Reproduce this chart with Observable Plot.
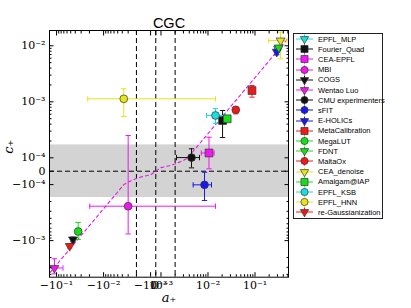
<!DOCTYPE html>
<html><head><meta charset="utf-8">
<script src="https://cdn.jsdelivr.net/npm/d3@7"></script>
<script src="https://cdn.jsdelivr.net/npm/@observablehq/plot@0.6"></script>
<style>
body{margin:0;background:#fff;}
#wrap{position:relative;width:411px;height:308px;overflow:hidden;background:#fff;}
#legend{position:absolute;left:293px;top:33px;width:88px;height:184px;border:1px solid #222;background:#fff;font-family:"Liberation Sans",Arial,sans-serif;font-size:7.5px;color:#000;}
.row{position:absolute;left:0;height:10px;display:flex;align-items:center;white-space:nowrap;}
.row svg{display:block;margin-left:1px;margin-right:3px;}
</style></head><body><div id="wrap"><div id="legend"></div></div>
<script>
// ---- data ----
const methods = ["EPFL_MLP","Fourier_Quad","CEA-EPFL","MBI","COGS","Wentao Luo","CMU experimenters","sFIT","E-HOLICs","MetaCalibration","MegaLUT","FDNT","MaltaOx","CEA_denoise","Amalgam@IAP","EPFL_KSB","EPFL_HNN","re-Gaussianization"];
const colors = ["#19e0e0","#111111","#ee19ee","#ee19ee","#111111","#ee19ee","#111111","#1919ee","#1919ee","#ee1919","#19dd19","#19dd19","#ee1919","#e5e519","#19dd19","#19e0e0","#e5e519","#ee1919"];
const shapes = ["triangle","square","square","circle","triangle","triangle","circle","circle","triangle","square","circle","triangle","circle","triangle","square","circle","circle","triangle"];
const aPlus = [0.31, 0.0204, 0.0105, -0.0030, -0.0448, -0.111, 0.00446, 0.00843, 0.29, 0.0863, -0.0347, 0.32, 0.039, 0.35, 0.0256, 0.01445, -0.00372, -0.0526];
const aLow  = [0.295, 0.018, 0.0072, -0.0197, -0.047, -0.145, 0.00214, 0.00484, 0.275, 0.080, -0.037, 0.30, 0.037, 0.197, 0.024, 0.0093, -0.0217, -0.055];
const aHigh = [0.325, 0.023, 0.0135, 0.01445, -0.0425, -0.0731, 0.00659, 0.01187, 0.305, 0.093, -0.0325, 0.34, 0.041, 0.48, 0.027, 0.0236, 0.01445, -0.050];
const cPlus = [0.0088, 4.63e-4, 1.22e-4, -2.43e-4, -9.56e-4, -3.08e-3, 1.01e-4, -1.01e-4, 0.0078, 1.59e-3, -6.88e-4, 0.0093, 7.2e-4, 0.0124, 4.97e-4, 5.7e-4, 1.13e-3, -1.25e-3];
const cLow  = [0.0082, 2.3e-4, 1.8e-5, -7.6e-4, -1.05e-3, -3.92e-3, 2.5e-5, -1.92e-4, 0.0069, 1.21e-3, -9.56e-4, 0.0085, 6.1e-4, 0.00586, 4.5e-4, 4.1e-4, 5.46e-4, -1.35e-3];
const cHigh = [0.0095, 7.0e-4, 2.33e-4, 2.5e-4, -8.7e-4, -2.11e-3, 1.45e-4, -7.5e-6, 0.0088, 1.95e-3, -4.75e-4, 0.0101, 8.0e-4, 0.0175, 5.5e-4, 7.6e-4, 1.71e-3, -1.15e-3];
const xTickVals = [-0.1, -0.01, -0.001, 0, 0.001, 0.01, 0.1];
const xTickLabels = ["\u221210\u207B\u00B9","\u221210\u207B\u00B2","\u221210\u207B\u00B3","0","10\u207B\u00B3","10\u207B\u00B2","10\u207B\u00B9"];
const yTickVals = [-0.001, -0.0001, 0, 0.0001, 0.001, 0.01];
const yTickLabels = ["\u221210\u207B\u00B3","\u221210\u207B\u2074","0","10\u207B\u2074","10\u207B\u00B3","10\u207B\u00B2"];
const vLines = [-0.002, 0, 0.002];
const band = [{lo: -1.7e-4, hi: 1.7e-4}];
const lineSlope = 0.027;
const lineA = [-0.2,-0.15,-0.1,-0.07,-0.05,-0.03,-0.02,-0.015,-0.01,-0.008,-0.006,-0.005,-0.0037,-0.003,-0.002,-0.0015,-0.001,-0.0005,0,0.0005,0.001,0.0015,0.002,0.003,0.0037,0.005,0.006,0.008,0.01,0.015,0.02,0.03,0.05,0.07,0.1,0.15,0.2,0.3,0.5,0.7];
const xMin = -0.1414, xMax = 0.516, yMin = -4.5e-3, yMax = 0.01875;

// ---- symlog transforms (matplotlib-like) ----
function symlog(L, s) { return v => { const m = Math.abs(v); const t = m <= L ? s * m / L : s + Math.log10(m / L); return v < 0 ? -t : t; }; }
const tx = symlog(1e-3, 0.1106);
const ty = symlog(1e-4, 0.239);

const pts = methods.map((m, i) => ({m, color: colors[i], shape: shapes[i], a: aPlus[i], aLo: aLow[i], aHi: aHigh[i], c: cPlus[i], cLo: cLow[i], cHi: cHigh[i]}));
const line = lineA.map(a => ({a, c: lineSlope * a}));

function minors(decades, lo, hi) {
  const out = [];
  for (const k of decades) for (let m = 2; m <= 9; m++) { const v = m * Math.pow(10, k); if (v <= hi) out.push(v); if (-v >= lo) out.push(-v); }
  return out;
}
const xMinor = minors([-3, -2, -1], xMin, xMax);
const yMinor = minors([-4, -3, -2], yMin, yMax);

const xLab = new Map(xTickVals.map((t, i) => [t, xTickLabels[i]]));
const yLab = new Map(yTickVals.map((t, i) => [t, yTickLabels[i]]));
const blank = () => "";

const capH = {draw(ctx, size) { const w = Math.sqrt(size) / 2; ctx.moveTo(-w, 0); ctx.lineTo(w, 0); }};
const capV = {draw(ctx, size) { const w = Math.sqrt(size) / 2; ctx.moveTo(0, -w); ctx.lineTo(0, w); }};

const plot = Plot.plot({
  width: 411, height: 308,
  marginLeft: 49, marginRight: 123, marginTop: 30, marginBottom: 31.3,
  x: {type: "linear", transform: tx, domain: [tx(xMin), tx(xMax)], axis: null},
  y: {type: "linear", transform: ty, domain: [ty(yMin), ty(yMax)], axis: null},
  style: {fontFamily: "DejaVu Serif", fontSize: "11px", background: "#fff", color: "#000"},
  marks: [
    Plot.rect(band, {y1: "lo", y2: "hi", fill: "#d3d3d3"}),
    Plot.ruleY([0], {stroke: "#000", strokeWidth: 1, strokeDasharray: "5,3"}),
    Plot.ruleX(vLines, {stroke: "#000", strokeWidth: 1, strokeDasharray: "5,3"}),
    Plot.line(line, {x: "a", y: "c", stroke: "#e619e6", strokeWidth: 1.1, strokeDasharray: "3,3", clip: true}),
    Plot.ruleX(pts, {x: "a", y1: "cLo", y2: "cHi", stroke: "color", strokeWidth: 1, clip: true}),
    Plot.ruleY(pts, {y: "c", x1: "aLo", x2: "aHi", stroke: "color", strokeWidth: 1, clip: true}),
    Plot.dot(pts, {x: "a", y: "cLo", symbol: capH, r: 3, stroke: "color", fill: "none", strokeWidth: 1, clip: true}),
    Plot.dot(pts, {x: "a", y: "cHi", symbol: capH, r: 3, stroke: "color", fill: "none", strokeWidth: 1, clip: true}),
    Plot.dot(pts, {x: "aLo", y: "c", symbol: capV, r: 3, stroke: "color", fill: "none", strokeWidth: 1, clip: true}),
    Plot.dot(pts, {x: "aHi", y: "c", symbol: capV, r: 3, stroke: "color", fill: "none", strokeWidth: 1, clip: true}),
    Plot.dot(pts.filter(d => d.shape === "square"), {x: "a", y: "c", symbol: "square", r: 4.4, fill: "color", stroke: "#333", strokeWidth: 0.7}),
    Plot.dot(pts.filter(d => d.shape === "circle"), {x: "a", y: "c", symbol: "circle", r: 3.9, fill: "color", stroke: "#333", strokeWidth: 0.7}),
    Plot.dot(pts.filter(d => d.shape === "triangle"), {x: "a", y: "c", symbol: "triangle", rotate: 180, r: 3.3, fill: "color", stroke: "#333", strokeWidth: 0.7}),
    // axes: labels
    Plot.axisX(xTickVals, {anchor: "bottom", tickSize: 0, tickPadding: 4, tickFormat: t => xLab.get(t), fontSize: 11}),
    Plot.axisY(yTickVals, {anchor: "left", tickSize: 0, tickPadding: 4, tickFormat: t => yLab.get(t), fontSize: 11}),
    // inward major ticks on all sides
    Plot.axisX(xTickVals, {anchor: "bottom", tickSize: -4.5, tickFormat: blank}),
    Plot.axisX(xTickVals, {anchor: "top", tickSize: -4.5, tickFormat: blank}),
    Plot.axisY(yTickVals, {anchor: "left", tickSize: -4.5, tickFormat: blank}),
    Plot.axisY(yTickVals, {anchor: "right", tickSize: -4.5, tickFormat: blank}),
    // inward minor ticks
    Plot.axisX(xMinor, {anchor: "bottom", tickSize: -2.5, tickFormat: blank}),
    Plot.axisX(xMinor, {anchor: "top", tickSize: -2.5, tickFormat: blank}),
    Plot.axisY(yMinor, {anchor: "left", tickSize: -2.5, tickFormat: blank}),
    Plot.axisY(yMinor, {anchor: "right", tickSize: -2.5, tickFormat: blank}),
    Plot.frame({stroke: "#000", strokeWidth: 1}),
    Plot.text(["CGC"], {text: d => d, frameAnchor: "top", dy: -3, lineAnchor: "bottom", fontSize: 14.5, fontFamily: "Liberation Sans"}),
    Plot.text(["a\u208A"], {text: d => d, frameAnchor: "bottom", dy: 21, lineAnchor: "middle", fontStyle: "italic", fontSize: 13}),
    Plot.text(["c\u208A"], {text: d => d, frameAnchor: "left", dx: -41, rotate: -90, lineAnchor: "middle", fontStyle: "italic", fontSize: 13})
  ]
});
const wrap = document.getElementById("wrap");
wrap.insertBefore(plot, wrap.firstChild);
plot.style.position = "absolute"; plot.style.left = "0"; plot.style.top = "0";

// ---- legend ----
const legend = document.getElementById("legend");
const symGen = {circle: d3.symbolCircle, square: d3.symbolSquare, triangle: d3.symbolTriangle};
const symR = {circle: 3.6, square: 4.0, triangle: 3.1};
pts.forEach((d, i) => {
  const row = document.createElement("div");
  row.className = "row";
  row.style.top = (0 + i * 10.2) + "px";
  const ns = "http://www.w3.org/2000/svg";
  const svg = document.createElementNS(ns, "svg");
  svg.setAttribute("width", 20); svg.setAttribute("height", 10);
  const h = document.createElementNS(ns, "path");
  h.setAttribute("d", "M1,5H18M9.5,0.5V9.5");
  h.setAttribute("stroke", d.color); h.setAttribute("stroke-width", 1); h.setAttribute("fill", "none");
  svg.appendChild(h);
  const p = document.createElementNS(ns, "path");
  p.setAttribute("d", d3.symbol(symGen[d.shape], Math.PI * symR[d.shape] ** 2)());
  p.setAttribute("transform", "translate(9.5,5)" + (d.shape === "triangle" ? " rotate(180)" : ""));
  p.setAttribute("fill", d.color); p.setAttribute("stroke", "#333"); p.setAttribute("stroke-width", 0.7);
  svg.appendChild(p);
  row.appendChild(svg);
  const t = document.createElement("span");
  t.textContent = d.m;
  row.appendChild(t);
  legend.appendChild(row);
});
</script>
</body></html>
